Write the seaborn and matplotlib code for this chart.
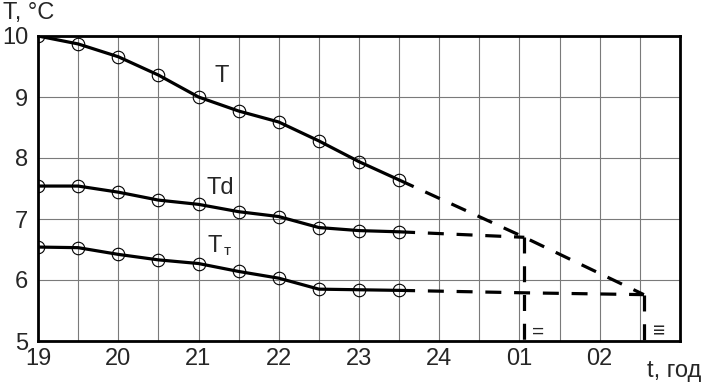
import matplotlib
matplotlib.use('Agg')
import matplotlib.pyplot as plt
import numpy as np
import pandas as pd
import seaborn as sns

# measured hours (24 -> 01 written as 25, 26 ...)
hours = [19, 19.5, 20, 20.5, 21, 21.5, 22, 22.5, 23, 23.5]
temp_air = [10.0, 9.87, 9.66, 9.36, 9.0, 8.77, 8.59, 8.28, 7.94, 7.64]
temp_dew = [7.54, 7.54, 7.44, 7.31, 7.24, 7.12, 7.04, 6.86, 6.81, 6.79]
temp_fog = [6.54, 6.53, 6.42, 6.33, 6.27, 6.14, 6.03, 5.85, 5.84, 5.83]

# forecast (dashed) parts
fc_air_x = [23.5, 25.06, 26.55]
fc_air_y = [7.64, 6.70, 5.76]
fc_dew_x = [23.5, 25.06]
fc_dew_y = [6.79, 6.70]
fc_fog_x = [23.5, 25.06, 26.55]
fc_fog_y = [5.83, 5.79, 5.76]
drop_x = [25.06, 26.55]
drop_top = [6.70, 5.76]

tick_pos = [19, 20, 21, 22, 23, 24, 25, 26]
tick_lab = ['19', '20', '21', '22', '23', '24', '01', '02']

sns.set_style('white')
plt.rcParams['font.family'] = ['Liberation Sans', 'DejaVu Sans']

fig = plt.figure(figsize=(7.06, 3.82), dpi=100)
ax = fig.add_axes([38 / 706, 1 - 341 / 382, 642 / 706, 305 / 382])

df = pd.DataFrame({'t': hours, 'T': temp_air, 'Td': temp_dew, 'Tt': temp_fog})
for col in ['T', 'Td', 'Tt']:
    sns.lineplot(data=df, x='t', y=col, ax=ax, color='black', linewidth=2.3,
                 marker='o', markersize=9, markerfacecolor='none',
                 markeredgecolor='black', markeredgewidth=0.8, zorder=4)

dash = dict(color='black', linewidth=2.3, linestyle=(0, (5, 4)), zorder=3)
ax.plot(fc_air_x, fc_air_y, **dash)
ax.plot(fc_dew_x, fc_dew_y, **dash)
ax.plot(fc_fog_x, fc_fog_y, **dash)
for x0, y0 in zip(drop_x, drop_top):
    ax.plot([x0, x0], [y0, 5.0], **dash)

ax.set_xlim(19, 27)
ax.set_ylim(5, 10)
ax.set_xticks(tick_pos)
ax.set_xticklabels(tick_lab)
ax.set_yticks([5, 6, 7, 8, 9, 10])
ax.set_xticks(np.arange(19.5, 27, 0.5), minor=True)
ax.grid(True, which='minor', axis='x', color='#7a7a7a', linewidth=0.8)
ax.grid(True, which='major', axis='both', color='#7a7a7a', linewidth=0.8)
ax.tick_params(axis='both', which='both', length=0, labelsize=17)
ax.tick_params(axis='x', pad=5)
ax.tick_params(axis='y', pad=7)
ax.set_xlabel('')
ax.set_ylabel('')
for s in ax.spines.values():
    s.set_color('black')
    s.set_linewidth(2)

ax.text(21.29, 9.34, 'T', fontsize=17, ha='center', va='center')
ax.text(21.27, 7.51, 'Td', fontsize=17, ha='center', va='center')
ax.text(21.2, 6.56, 'T', fontsize=17, ha='center', va='center')
ax.text(21.36, 6.47, 'т', fontsize=11, ha='center', va='center')
ax.text(25.23, 5.14, '=', fontsize=15, ha='center', va='center')
ax.text(26.74, 5.14, '≡', fontsize=15, ha='center', va='center')

fig.text(3 / 706, 1 - 13 / 382, 'T, °C', fontsize=17, ha='left', va='center')
fig.text(647 / 706, 1 - 377 / 382, 't, год', fontsize=17, ha='left', va='baseline')

fig.savefig('out.png', dpi=100)
